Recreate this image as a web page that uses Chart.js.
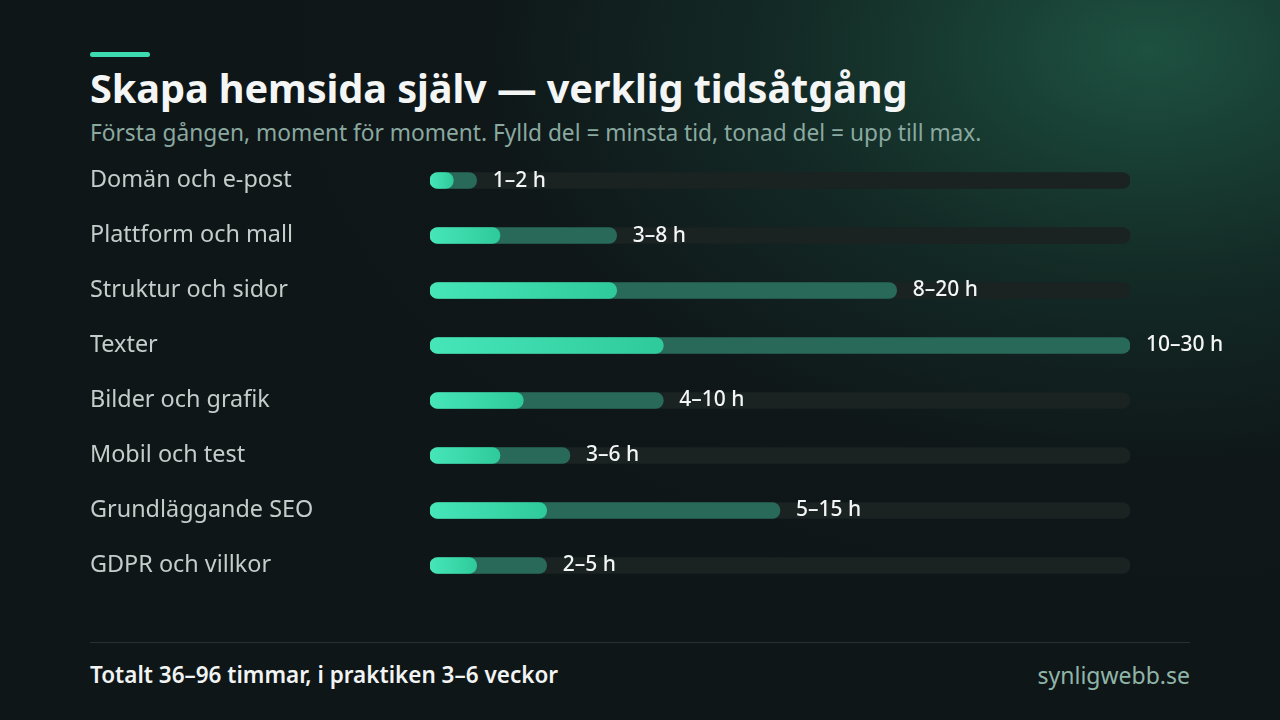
<!DOCTYPE html>
<html lang="sv">
<head>
<meta charset="utf-8">
<script src="https://cdn.jsdelivr.net/npm/chart.js@4.4.1/dist/chart.umd.min.js"></script>
<style>
  html, body { margin:0; padding:0; }
  body {
    width:1280px; height:720px; overflow:hidden; position:relative;
    font-family:"Noto Sans", "Open Sans", sans-serif;
    background:
      radial-gradient(ellipse 900px 560px at 1150px 50px, rgba(30,84,66,0.95), rgba(22,56,47,0.6) 40%, rgba(15,26,26,0.2) 75%, rgba(15,22,24,0) 100%),
      #0f1618;
  }
  .accent { position:absolute; left:90px; top:52px; width:60px; height:5px; border-radius:3px; background:#3ddbb0; }
  h1 { position:absolute; left:90px; top:61px; margin:0; font-size:39.7px; font-weight:700; color:#f3f6f5; letter-spacing:-0.1px; }
  .sub { position:absolute; left:90px; top:117px; margin:0; font-size:22.7px; color:#8aa9a0; }
  #wrap { position:absolute; left:90px; top:139px; width:1190px; height:468px; }
  .rule { position:absolute; left:90px; top:642px; width:1100px; height:1px; background:#283133; }
  .foot { position:absolute; left:90px; top:659px; font-size:22.5px; font-weight:600; color:#f1f4f3; }
  .site { position:absolute; right:90px; top:659px; font-size:23px; color:#8fb5a8; }
</style>
</head>
<body>
<div class="accent"></div>
<h1>Skapa hemsida själv — verklig tidsåtgång</h1>
<p class="sub">Första gången, moment för moment. Fylld del = minsta tid, tonad del = upp till max.</p>
<div id="wrap"><canvas id="chart"></canvas></div>
<div class="rule"></div>
<div class="foot">Totalt 36–96 timmar, i praktiken 3–6 veckor</div>
<div class="site">synligwebb.se</div>
<script>
const categories = ['Domän och e-post','Plattform och mall','Struktur och sidor','Texter','Bilder och grafik','Mobil och test','Grundläggande SEO','GDPR och villkor'];
const minHours = [1, 3, 8, 10, 4, 3, 5, 2];
const maxHours = [2, 8, 20, 30, 10, 6, 15, 5];
const scaleMax = 30;
const trackHours = categories.map(() => scaleMax);

const valueLabels = {
  id: 'valueLabels',
  afterDatasetsDraw(chart) {
    const ctx = chart.ctx;
    const x = chart.scales.x, y = chart.scales.y;
    ctx.save();
    ctx.font = '500 21px "Noto Sans", sans-serif';
    ctx.fillStyle = '#f3f6f5';
    ctx.textBaseline = 'middle';
    ctx.textAlign = 'left';
    categories.forEach((c, i) => {
      ctx.fillText(minHours[i] + '–' + maxHours[i] + ' h', x.getPixelForValue(maxHours[i]) + 16, y.getPixelForValue(i));
    });
    ctx.restore();
  }
};

function minFill(context) {
  const chart = context.chart;
  const area = chart.chartArea;
  if (!area) return '#3ddbb0';
  const x0 = area.left;
  const x1 = chart.scales.x.getPixelForValue(minHours[context.dataIndex]);
  const g = chart.ctx.createLinearGradient(x0, 0, x1, 0);
  g.addColorStop(0, '#46e6b8');
  g.addColorStop(1, '#2fca9c');
  return g;
}

new Chart(document.getElementById('chart'), {
  type: 'bar',
  data: {
    labels: categories,
    datasets: [
      { data: minHours, backgroundColor: minFill, borderRadius: 8, borderSkipped: false, barThickness: 16, grouped: false },
      { data: maxHours, backgroundColor: '#28695a', borderRadius: 8, borderSkipped: false, barThickness: 16, grouped: false },
      { data: trackHours, backgroundColor: '#1a2222', borderRadius: 8, borderSkipped: false, barThickness: 16, grouped: false }
    ]
  },
  options: {
    indexAxis: 'y',
    responsive: true,
    maintainAspectRatio: false,
    animation: false,
    layout: { padding: { left: 0, right: 150, top: 0, bottom: 0 } },
    plugins: { legend: { display: false }, tooltip: { enabled: false } },
    scales: {
      x: { min: 0, max: scaleMax, display: false },
      y: {
        grid: { display: false },
        border: { display: false },
        afterFit(s) { s.width = 340; },
        ticks: {
          crossAlign: 'far',
          padding: 0,
          color: '#c3cecb',
          font: { family: '"Noto Sans", sans-serif', size: 23.4 }
        }
      }
    }
  },
  plugins: [valueLabels]
});
</script>
</body>
</html>
